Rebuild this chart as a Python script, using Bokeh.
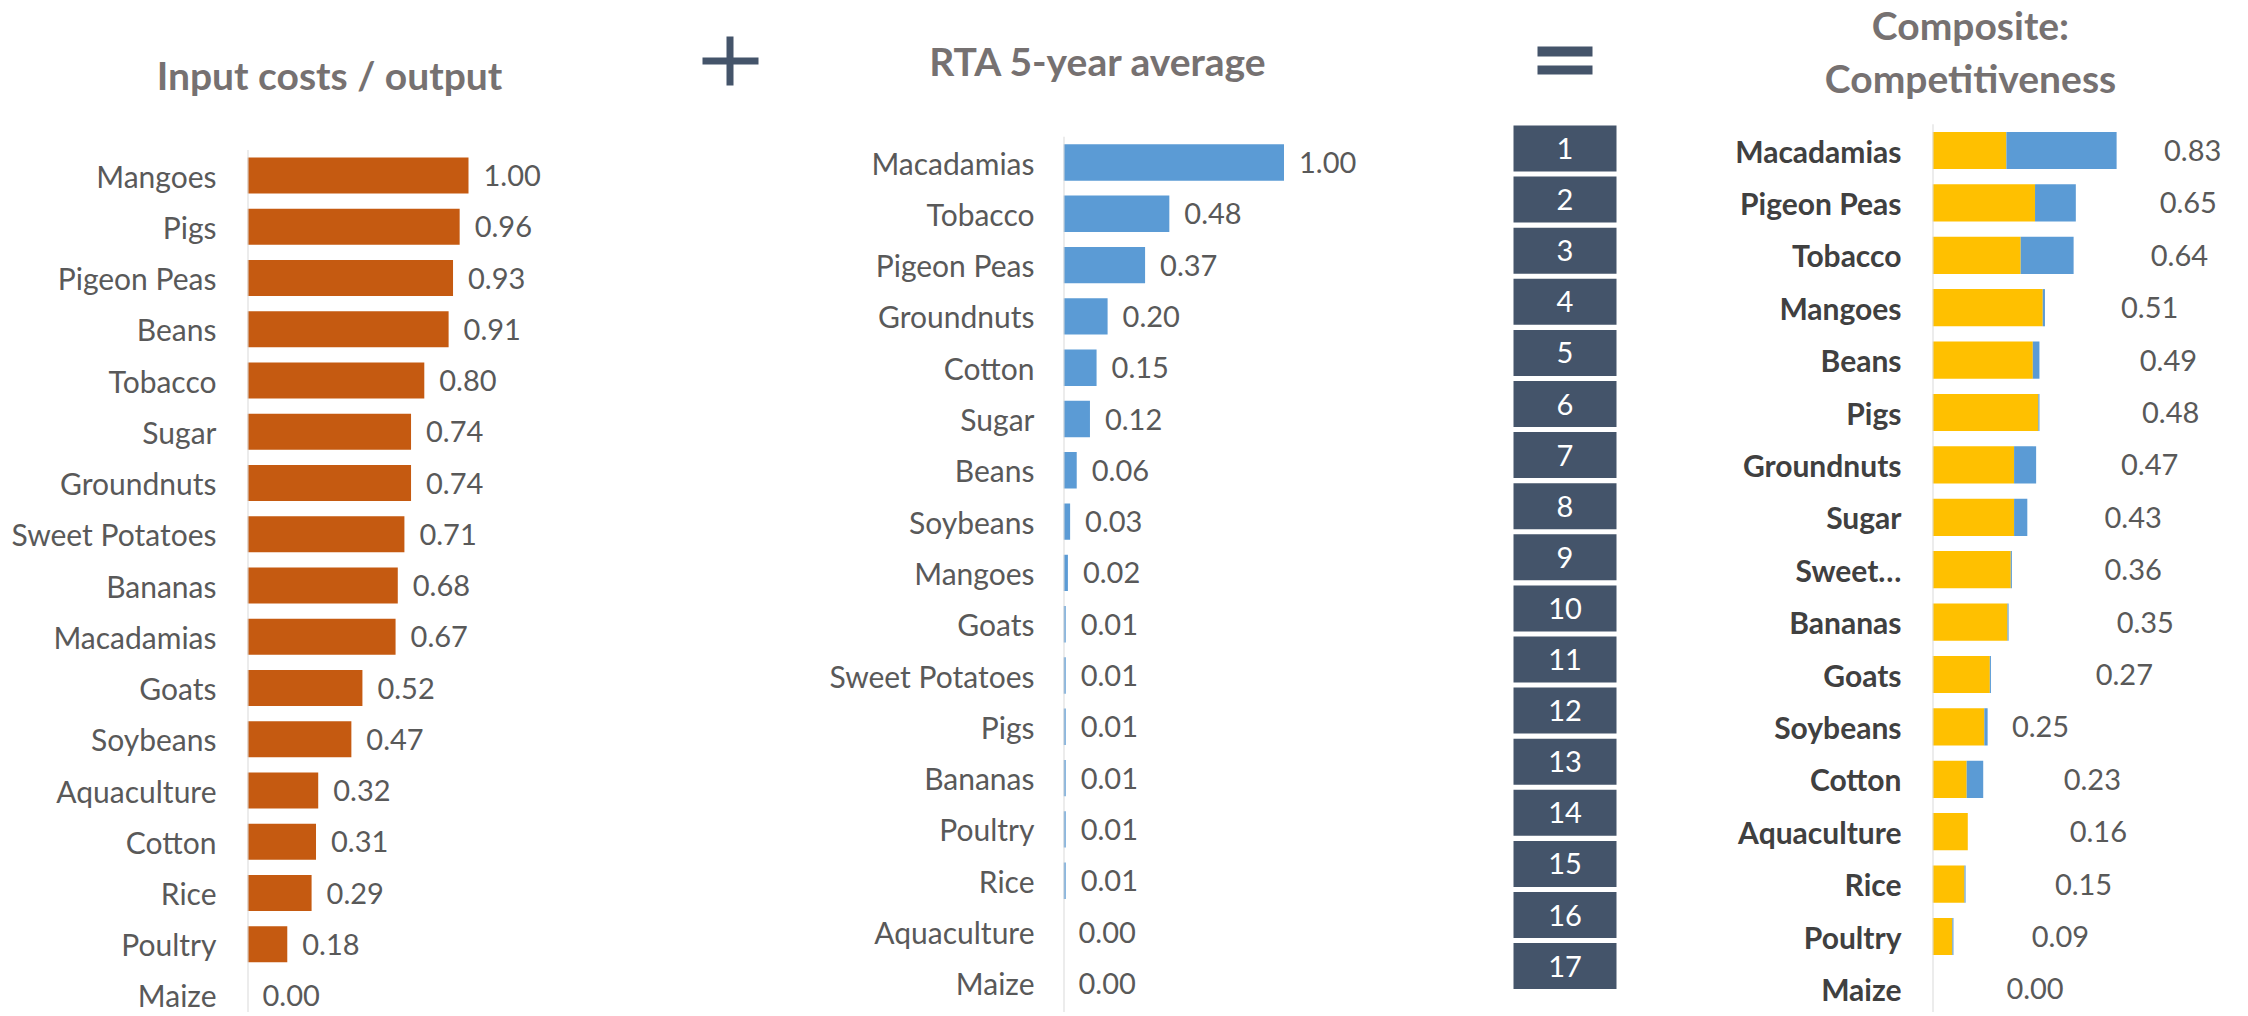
from bokeh.plotting import figure
from bokeh.layouts import row, column
from bokeh.models import Range1d, FixedTicker, ColumnDataSource, LabelSet
from bokeh.core.properties import value
from bokeh.embed import file_html
from bokeh.resources import INLINE

# ---------------- data ----------------
input_cats = ["Mangoes", "Pigs", "Pigeon Peas", "Beans", "Tobacco", "Sugar", "Groundnuts",
              "Sweet Potatoes", "Bananas", "Macadamias", "Goats", "Soybeans", "Aquaculture",
              "Cotton", "Rice", "Poultry", "Maize"]
input_vals = [1.00, 0.96, 0.93, 0.91, 0.80, 0.74, 0.74, 0.71, 0.68, 0.67, 0.52, 0.47, 0.32,
              0.31, 0.29, 0.18, 0.00]

rta_cats = ["Macadamias", "Tobacco", "Pigeon Peas", "Groundnuts", "Cotton", "Sugar", "Beans",
            "Soybeans", "Mangoes", "Goats", "Sweet Potatoes", "Pigs", "Bananas", "Poultry",
            "Rice", "Aquaculture", "Maize"]
rta_vals = [1.00, 0.48, 0.37, 0.20, 0.15, 0.12, 0.06, 0.03, 0.02, 0.01, 0.01, 0.01, 0.01,
            0.01, 0.01, 0.00, 0.00]

ranks = [str(i) for i in range(1, 18)]

comp_cats = ["Macadamias", "Pigeon Peas", "Tobacco", "Mangoes", "Beans", "Pigs", "Groundnuts",
             "Sugar", "Sweet\u2026", "Bananas", "Goats", "Soybeans", "Cotton", "Aquaculture",
             "Rice", "Poultry", "Maize"]
comp_input_part = [0.335, 0.465, 0.40, 0.50, 0.455, 0.48, 0.37, 0.37, 0.355, 0.34, 0.26, 0.235,
                   0.155, 0.16, 0.145, 0.09, 0.00]
comp_rta_part = [0.50, 0.185, 0.24, 0.01, 0.03, 0.005, 0.10, 0.06, 0.005, 0.005, 0.005, 0.015,
                 0.075, 0.00, 0.005, 0.005, 0.00]
comp_totals = [0.83, 0.65, 0.64, 0.51, 0.49, 0.48, 0.47, 0.43, 0.36, 0.35, 0.27, 0.25, 0.23,
               0.16, 0.15, 0.09, 0.00]
# where the composite's value labels sit (hidden label-helper series, x units)
comp_label_at = [1.18, 1.16, 1.12, 0.985, 1.07, 1.08, 0.985, 0.91, 0.91, 0.965, 0.87, 0.49,
                 0.725, 0.752, 0.685, 0.58, 0.465]

panel_titles = ["Input costs / output", "RTA 5-year average", "Composite:", "Competitiveness"]

# ---------------- styles ----------------
FONT = "Lato"
ORANGE = "#C55A11"
BLUE = "#5B9BD5"
YELLOW = "#FFC000"
NAVY = "#44546A"
TXT = "#595959"
TITLE = "#767171"
AXIS = "#D9D9D9"
W = 2244
HEAD = 115            # height of the title strip
TOP = HEAD            # page-y where the panel row starts
H = 1012 - HEAD       # panel row height
CAT_SIZE = "30px"
VAL_SIZE = "29px"

# ---------------- title strip ----------------
head = figure(width=W, height=HEAD, output_backend="svg", toolbar_location=None,
              x_axis_location=None, y_axis_location=None,
              x_range=Range1d(0, W), y_range=Range1d(HEAD, 0),
              min_border=0, outline_line_color=None, background_fill_color="white",
              border_fill_color="white")
head.grid.visible = False
head.text(x=[329, 1098, 1970, 1970], y=[74, 60, 24, 77], text=panel_titles,
          text_align="center", text_baseline="alphabetic", text_font=value(FONT),
          text_font_style="bold", text_font_size="39px", text_color=TITLE)
# plus sign
head.rect(x=[730, 729.5], y=[60.5, 60.5], width=[56, 7], height=[7, 49], color=NAVY,
          line_color=None)
# equals sign
head.rect(x=[1564.5, 1564.5], y=[51, 69.5], width=[55, 55], height=[10, 9], color=NAVY,
          line_color=None)


def make_fig(width, border_left, x_end, row0, step):
    """row0: page-y of first row centre, step: page px per row."""
    y_top = (TOP - row0) / step
    y_bot = (TOP + H - row0) / step
    p = figure(width=width, height=H, output_backend="svg", toolbar_location=None,
               x_axis_location=None, y_axis_location="left" if border_left else None,
               x_range=Range1d(0, x_end), y_range=Range1d(y_bot, y_top),
               min_border_left=border_left, min_border_right=0, min_border_top=0,
               min_border_bottom=0, outline_line_color=None, background_fill_color="white",
               border_fill_color="white")
    p.grid.visible = False
    return p, y_bot


def style_yaxis(p, cats, standoff, bold=False, color=TXT):
    ax = p.yaxis[0]
    ax.ticker = FixedTicker(ticks=list(range(len(cats))))
    ax.major_label_overrides = {i: c for i, c in enumerate(cats)}
    ax.axis_line_color = None
    ax.major_tick_line_color = None
    ax.minor_tick_line_color = None
    ax.major_tick_out = 0
    ax.major_tick_in = 0
    ax.major_label_standoff = standoff
    ax.major_label_text_font = FONT
    ax.major_label_text_font_size = CAT_SIZE
    ax.major_label_text_color = color
    ax.major_label_text_font_style = "bold" if bold else "normal"


def value_labels(p, source, xfield, offset, align):
    p.add_layout(LabelSet(x=xfield, y="y", text="lab", x_offset=offset, source=source,
                          text_align=align, text_baseline="middle", text_font=value(FONT),
                          text_font_size=VAL_SIZE, text_color=TXT))


rows = list(range(17))

# ---------------- panel 1: input costs / output ----------------
U1 = 221.0
p1, yb1 = make_fig(800, 247, (800 - 247) / U1, 175, 51.25)
style_yaxis(p1, input_cats, 31)
s1 = ColumnDataSource(dict(y=rows, v=input_vals, lab=["%.2f" % v for v in input_vals]))
p1.hbar(y="y", left=0, right="v", height=0.70, color=ORANGE, line_color=None, source=s1)
p1.segment(x0=[0], y0=[-0.5], x1=[0], y1=[yb1], line_color=AXIS, line_width=2)
value_labels(p1, s1, "v", 15, "left")

# ---------------- panel 2: RTA ----------------
U2 = 220.5
p2, yb2 = make_fig(690, 263, (1490 - 1063) / U2, 162, 51.3)
style_yaxis(p2, rta_cats, 29)
s2 = ColumnDataSource(dict(y=rows, v=rta_vals, lab=["%.2f" % v for v in rta_vals]))
p2.hbar(y="y", left=0, right="v", height=0.71, color=BLUE, line_color=None, source=s2)
p2.segment(x0=[0], y0=[-0.5], x1=[0], y1=[yb2], line_color=AXIS, line_width=2)
value_labels(p2, s2, "v", 15, "left")

# ---------------- panel 3: rank boxes ----------------
p3, yb3 = make_fig(160, 0, 1, 148, 51.1)
p3.x_range = Range1d(1490, 1650)
s3 = ColumnDataSource(dict(y=rows, r=ranks))
p3.rect(x=1564.5, y="y", width=103, height=0.9, color=NAVY, line_color=None, source=s3)
p3.text(x=1564.5, y="y", text="r", text_align="center", text_baseline="middle",
        text_font=value(FONT), text_font_size="29px", text_color="white", source=s3)

# ---------------- panel 4: composite ----------------
U4 = 220.5
p4, yb4 = make_fig(W - 1650, 282, (W - 1932) / U4, 150, 52.4)
style_yaxis(p4, comp_cats, 31, bold=True, color="#404040")
s4 = ColumnDataSource(dict(y=rows, inp=comp_input_part, rta=comp_rta_part,
                           lx=comp_label_at, lab=["%.2f" % v for v in comp_totals]))
p4.hbar_stack(["inp", "rta"], y="y", height=0.71, color=[YELLOW, BLUE], line_color=None,
              source=s4)
p4.segment(x0=[0], y0=[-0.5], x1=[0], y1=[yb4], line_color=AXIS, line_width=2)
value_labels(p4, s4, "lx", 0, "center")

layout = column(head, row(p1, p2, p3, p4), spacing=0)
open("out.html", "w").write(file_html(layout, INLINE))
